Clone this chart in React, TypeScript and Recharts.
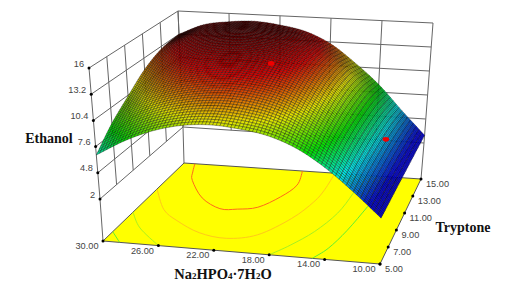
import React from "react";
import { ComposedChart, Line, Scatter, XAxis, YAxis } from "recharts";

// ---- values ----
const naLevels = [30, 28, 26, 24, 22, 20, 18, 16, 14, 12, 10];
const tryptoneLevels = [5, 7, 9, 11, 13, 15];
const ethanolAtT5 = [6.7, 8.4, 9.7, 10.5, 10.8, 10.6, 10.1, 9.0, 7.2, 4.9, 2.4];
const ethanolAtT7 = [8.7, 10.3, 11.5, 12.2, 12.5, 12.3, 11.6, 10.2, 8.2, 5.4, 2.5];
const ethanolAtT9 = [10.3, 11.9, 13.0, 13.6, 13.8, 13.5, 12.7, 11.1, 8.8, 5.7, 2.6];
const ethanolAtT11 = [11.9, 13.2, 14.2, 14.7, 14.8, 14.4, 13.4, 11.7, 9.1, 5.9, 2.7];
const ethanolAtT13 = [12.9, 14.2, 14.9, 15.3, 15.2, 14.7, 13.6, 11.7, 9.1, 5.9, 2.8];
const ethanolAtT15 = [13.2, 14.5, 15.0, 15.2, 14.9, 14.3, 13.0, 10.9, 8.5, 5.6, 2.9];
const ethanolRows = [ethanolAtT5, ethanolAtT7, ethanolAtT9, ethanolAtT11, ethanolAtT13, ethanolAtT15];

const zTickLabels = ["16", "13.2", "10.4", "7.6", "4.8", "2"];
const zTicks = [16, 13.2, 10.4, 7.6, 4.8, 2];
const naTicks = [30, 26, 22, 18, 14, 10];
const naTickLabels = ["30.00", "26.00", "22.00", "18.00", "14.00", "10.00"];
const tTicks = [5, 7, 9, 11, 13, 15];
const tTickLabels = ["5.00", "7.00", "9.00", "11.00", "13.00", "15.00"];

// floor contours as [Na, Tryptone]
const contourRed: number[][] = [[29.08, 15], [28.6, 14], [28, 13], [26, 11], [24, 9.9], [22.7, 10], [21.3, 10.4], [20.2, 11.8], [19.6, 13.3], [20, 15]];
const contourOrange: number[][] = [[30, 11.67], [28, 9.3], [26.3, 8.1], [24, 6.9], [21.8, 6.5], [19.8, 7.2], [18.2, 9.4], [17.4, 11.5], [17.2, 13], [17.26, 15]];
const contourLimeLeft: number[][] = [[30, 8.7], [28.4, 6.9], [26, 5]];
const contourLimeRight: number[][] = [[18, 5], [17, 6.3], [15.9, 8.1], [15.06, 10.4], [14.8, 12.8], [14.8, 15]];
const contourGreenLeft: number[][] = [[30, 6.2], [28.8, 5]];
const contourGreenRight: number[][] = [[14.9, 5], [14.2, 6.3], [13.6, 8.5], [13.08, 11.4], [12.8, 13], [12.6, 15]];
const designPoints = [{ na: 20, t: 10, z: 14.2 }, { na: 11.4, t: 10, z: 6.6 }];

// colour ramp levels along ethanol
const rampLevels = [3.5, 6.2, 8.5, 11, 13.6, 15.4];
const rampColors = [[0, 0, 255], [0, 255, 255], [0, 255, 0], [255, 255, 0], [255, 0, 0], [130, 0, 0]];

// ---- box calibration ----
type P = [number, number];
const FLOOR: P[] = [[103, 241], [380, 264], [421, 179], [184, 163]];
const PLANE2: P[] = [[100, 199], [381, 222], [424, 143], [183, 127]];
const PLANE16: P[] = [[89, 68], [384, 87], [433, 23], [178, 11]];
const bil = (c: P[], u: number, v: number): P => {
  const f = (i: number) => c[0][i] * (1 - u) * (1 - v) + c[1][i] * u * (1 - v) + c[2][i] * u * v + c[3][i] * (1 - u) * v;
  return [f(0), f(1)];
};
const uOf = (na: number) => (30 - na) / 20;
const vOf = (t: number) => (t - 5) / 10;
const project = (na: number, t: number, z: number) => {
  const a = bil(PLANE2, uOf(na), vOf(t));
  const b = bil(PLANE16, uOf(na), vOf(t));
  const h = (z - 2) / 14;
  return { x: a[0] + (b[0] - a[0]) * h, y: a[1] + (b[1] - a[1]) * h };
};
const floorPt = (na: number, t: number) => {
  const p = bil(FLOOR, uOf(na), vOf(t));
  return { x: p[0], y: p[1] };
};

// ---- drawing-level smoothing of the table for the fine mesh ----
const cr = (a: number, b: number, c: number, d: number, s: number) =>
  0.5 * (2 * b + (c - a) * s + (2 * a - 5 * b + 4 * c - d) * s * s + (3 * b - a - 3 * c + d) * s * s * s);
const sample = (arr: number[], pos: number) => {
  const n = arr.length;
  const i = Math.min(n - 2, Math.floor(pos));
  const s = pos - i;
  const g = (k: number) => (k < 0 ? 2 * arr[0] - arr[1] : k >= n ? 2 * arr[n - 1] - arr[n - 2] : arr[k]);
  return cr(g(i - 1), g(i), g(i + 1), g(i + 2), s);
};
const surfaceAt = (u: number, v: number) => {
  const col = ethanolRows.map((r) => sample(r, u * (naLevels.length - 1)));
  return sample(col, v * (tryptoneLevels.length - 1));
};

// mesh lines crowd together where the surface is foreshortened: darken such cells
const ramp = (z: number, dark: number) => {
  let i = 0;
  while (i < rampLevels.length - 2 && z > rampLevels[i + 1]) i++;
  const s = Math.max(0, Math.min(1, (z - rampLevels[i]) / (rampLevels[i + 1] - rampLevels[i])));
  const c = rampColors[i].map((a, k) => Math.round((a + (rampColors[i + 1][k] - a) * s) * (1 - dark)));
  return `rgb(${c[0]},${c[1]},${c[2]})`;
};

const NU = 80;
const NV = 54;
const cells: any[] = [];
for (let j = NV - 1; j >= 0; j--) {
  for (let i = 0; i < NU; i++) {
    const corner = (a: number, b: number) => {
      const u = a / NU;
      const v = b / NV;
      const z = surfaceAt(u, v);
      return { ...project(30 - 20 * u, 5 + 10 * v, z), z };
    };
    const c = [corner(i, j), corner(i + 1, j), corner(i + 1, j + 1), corner(i, j + 1)];
    const area = Math.abs(
      (c[2].x - c[0].x) * (c[3].y - c[1].y) - (c[3].x - c[1].x) * (c[2].y - c[0].y)
    ) / 2;
    const dark = Math.min(0.92, 1.15 / Math.max(area, 0.1));
    cells.push({ x: c[0].x, y: c[0].y, corners: c, fill: ramp((c[0].z + c[1].z + c[2].z + c[3].z) / 4, dark) });
  }
}

const segments: { x: number; y: number }[][] = [];
zTicks.forEach((z) => {
  segments.push([project(30, 5, z), project(30, 15, z)]);
  segments.push([project(30, 15, z), project(10, 15, z)]);
});
tTicks.forEach((t) => segments.push([project(30, t, 2), project(30, t, 16)]));
naTicks.forEach((n) => segments.push([project(n, 15, 2), project(n, 15, 16)]));
segments.push([project(30, 5, 2), floorPt(30, 5)]);
segments.push([project(30, 15, 2), floorPt(30, 15)]);
segments.push([project(10, 15, 2), floorPt(10, 15)]);

const floorData = [{ ...floorPt(30, 5), corners: [floorPt(30, 5), floorPt(10, 5), floorPt(10, 15), floorPt(30, 15)] }];
const makeContour = (pts: number[][], color: string) => {
  const points = pts.map((p) => floorPt(p[0], p[1]));
  return { x: points[0].x, y: points[0].y, points, color };
};
const contourData = [
  makeContour(contourRed, "#ff6a1a"),
  makeContour(contourOrange, "#ffc81a"),
  makeContour(contourLimeLeft, "#a8f020"),
  makeContour(contourLimeRight, "#a8f020"),
  makeContour(contourGreenLeft, "#60f030"),
  makeContour(contourGreenRight, "#60f030"),
];
const tickDots = [
  ...zTicks.map((z) => project(30, 5, z)),
  ...naTicks.map((n) => floorPt(n, 5)),
  ...tTicks.map((t) => floorPt(10, t)),
];
const sans = "'Liberation Sans', Arial, sans-serif";
const serif = "'Liberation Serif', 'Times New Roman', serif";
const labels = [
  ...zTicks.map((z, i) => ({ ...project(30, 5, z), text: zTickLabels[i], dx: -5, dy: -1.5, anchor: "end" })),
  ...naTicks.map((n, i) => ({ ...floorPt(n, 5), text: naTickLabels[i], dx: -16, dy: 8, anchor: "middle" })),
  ...tTicks.map((t, i) => ({ ...floorPt(10, t), text: tTickLabels[i], dx: 5, dy: 8, anchor: "start" })),
];
const titleEthanol = [{ x: 49, y: 143, text: "Ethanol" }];
const titleTryptone = [{ x: 463, y: 232, text: "Tryptone" }];
const titleNa = [{ x: 223, y: 279 }];

const poly = (props: any) => {
  const { cx, cy, payload } = props;
  const pts = payload.corners.map((p: any) => `${cx + p.x - payload.x},${cy + p.y - payload.y}`).join(" ");
  return <polygon points={pts} fill={payload.fill} stroke="#000" strokeWidth={0.4} strokeOpacity={0.8} />;
};
const floorShape = (props: any) => {
  const { cx, cy, payload } = props;
  const pts = payload.corners.map((p: any) => `${cx + p.x - payload.x},${cy + p.y - payload.y}`).join(" ");
  return <polygon points={pts} fill="#ffff00" stroke="#555" strokeWidth={1} />;
};
const contourShape = (props: any) => {
  const { cx, cy, payload } = props;
  const q = payload.points.map((p: any) => [cx + p.x - payload.x, cy + p.y - payload.y]);
  let d = `M${q[0][0]},${q[0][1]}`;
  for (let i = 0; i < q.length - 1; i++) {
    const a = q[Math.max(0, i - 1)];
    const b = q[i];
    const c = q[i + 1];
    const e = q[Math.min(q.length - 1, i + 2)];
    d += `C${b[0] + (c[0] - a[0]) / 6},${b[1] + (c[1] - a[1]) / 6} ${c[0] - (e[0] - b[0]) / 6},${c[1] - (e[1] - b[1]) / 6} ${c[0]},${c[1]}`;
  }
  return <path d={d} fill="none" stroke={payload.color} strokeWidth={1} />;
};
const dot = (props: any) => <circle cx={props.cx} cy={props.cy} r={1.5} fill="#000" />;
const redDot = (props: any) => <ellipse cx={props.cx} cy={props.cy} rx={3.2} ry={2.4} fill="#f00000" />;
const tickText = (props: any) => {
  const { cx, cy, payload } = props;
  return (
    <text x={cx + payload.dx} y={cy + payload.dy} textAnchor={payload.anchor} fontFamily={sans} fontSize={9.2} fill="#444">
      {payload.text}
    </text>
  );
};
const titleText = (props: any) => (
  <text x={props.cx} y={props.cy} textAnchor="middle" fontFamily={serif} fontWeight="bold" fontSize={14} fill="#111">
    {props.payload.text}
  </text>
);
const naTitle = (props: any) => (
  <text x={props.cx} y={props.cy} textAnchor="middle" fontFamily={serif} fontWeight="bold" fontSize={14.5} fill="#111">
    Na<tspan fontSize={9}>2</tspan>HPO<tspan fontSize={9}>4</tspan>·7H<tspan fontSize={9}>2</tspan>O
  </text>
);

export default function App() {
  return (
    <div style={{ position: "absolute", left: 0, top: 0, width: 524, height: 293, background: "#fff" }}>
      <ComposedChart width={524} height={293} margin={{ top: 0, right: 0, bottom: 0, left: 0 }}>
        <XAxis type="number" dataKey="x" domain={[0, 524]} hide allowDataOverflow />
        <YAxis type="number" dataKey="y" domain={[0, 293]} reversed hide allowDataOverflow />
        {segments.map((s, i) => (
          <Line key={`w${i}`} data={s} dataKey="y" stroke="#666" strokeWidth={1} dot={false} activeDot={false} isAnimationActive={false} legendType="none" />
        ))}
        <Scatter data={floorData} shape={floorShape} isAnimationActive={false} legendType="none" />
        <Scatter data={contourData} shape={contourShape} isAnimationActive={false} legendType="none" />
        <Scatter data={cells} shape={poly} isAnimationActive={false} legendType="none" />
        <Scatter data={tickDots} shape={dot} isAnimationActive={false} legendType="none" />
        <Scatter data={designPoints.map((d) => project(d.na, d.t, d.z))} shape={redDot} isAnimationActive={false} legendType="none" />
        <Scatter data={labels} shape={tickText} isAnimationActive={false} legendType="none" />
        <Scatter data={titleEthanol} shape={titleText} isAnimationActive={false} legendType="none" />
        <Scatter data={titleTryptone} shape={titleText} isAnimationActive={false} legendType="none" />
        <Scatter data={titleNa} shape={naTitle} isAnimationActive={false} legendType="none" />
      </ComposedChart>
    </div>
  );
}
